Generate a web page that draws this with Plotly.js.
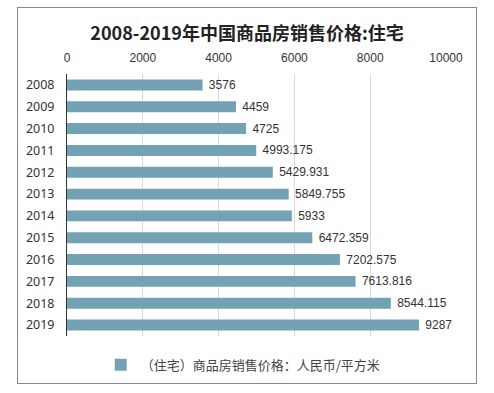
<!DOCTYPE html>
<html><head><meta charset="utf-8">
<script src="https://cdn.plot.ly/plotly-3.0.1.min.js"></script>
<style>
html,body{margin:0;padding:0;background:#fff;}
#wrap{position:relative;width:494px;height:393px;}
#chart{width:494px;height:393px;}
#frame{position:absolute;left:17px;top:7px;width:458px;height:375px;border:1px solid #888;pointer-events:none;}
</style>
</head><body>
<div id="wrap"><div id="chart"></div><div id="frame"></div></div>
<script>
const years = ['2008','2009','2010','2011','2012','2013','2014','2015','2016','2017','2018','2019'];
const prices = [3576, 4459, 4725, 4993.175, 5429.931, 5849.755, 5933, 6472.359, 7202.575, 7613.816, 8544.115, 9287];
const labels = ['3576','4459','4725','4993.175','5429.931','5849.755','5933','6472.359','7202.575','7613.816','8544.115','9287'];
const xTicks = [0, 2000, 4000, 6000, 8000, 10000];
const seriesName = '（住宅）商品房销售价格：人民币/平方米';
const titleText = '2008-2019年中国商品房销售价格:住宅';

const font = '"Noto Sans CJK SC", "Noto Sans", sans-serif';
Plotly.newPlot('chart', [{
  type: 'bar',
  orientation: 'h',
  y: years,
  x: prices,
  text: labels,
  texttemplate: '\u00a0%{text}',
  textposition: 'outside',
  constraintext: 'none',
  cliponaxis: false,
  textfont: {family: 'Liberation Sans, Arial, sans-serif', size: 12, color: '#333'},
  marker: {color: '#72A2B4'},
  name: seriesName,
  showlegend: true,
  hoverinfo: 'x+y'
}], {
  width: 494, height: 393,
  margin: {l: 67, r: 48, t: 74, b: 57},
  paper_bgcolor: '#fff', plot_bgcolor: '#fff',
  title: {text: '<b>' + titleText + '</b>', x: 0.5, xanchor: 'center', y: 0.915, yanchor: 'middle',
          font: {family: font, size: 18, color: '#222'}},
  bargap: 0.5,
  xaxis: {side: 'top', range: [0, 10000], tickvals: xTicks, ticktext: xTicks.map(String),
          showgrid: true, gridcolor: '#d9d9d9', gridwidth: 1, zeroline: false,
          showline: false, ticks: 'outside', ticklen: 6, tickcolor: 'rgba(0,0,0,0)',
          tickfont: {family: 'Liberation Sans, Arial, sans-serif', size: 12, color: '#333'}},
  yaxis: {autorange: 'reversed', type: 'category', showline: true, linecolor: '#333', linewidth: 1,
          showgrid: false, ticks: 'outside', ticklen: 9, tickcolor: 'rgba(0,0,0,0)',
          tickfont: {family: '"Noto Sans", "DejaVu Sans", sans-serif', size: 12.5, color: '#333'}},
  legend: {orientation: 'h', x: 0.465, xanchor: 'center', y: -0.11, yanchor: 'middle',
           font: {family: font, size: 13, color: '#444'}},
}, {displayModeBar: false, staticPlot: true});
</script>
</body></html>
